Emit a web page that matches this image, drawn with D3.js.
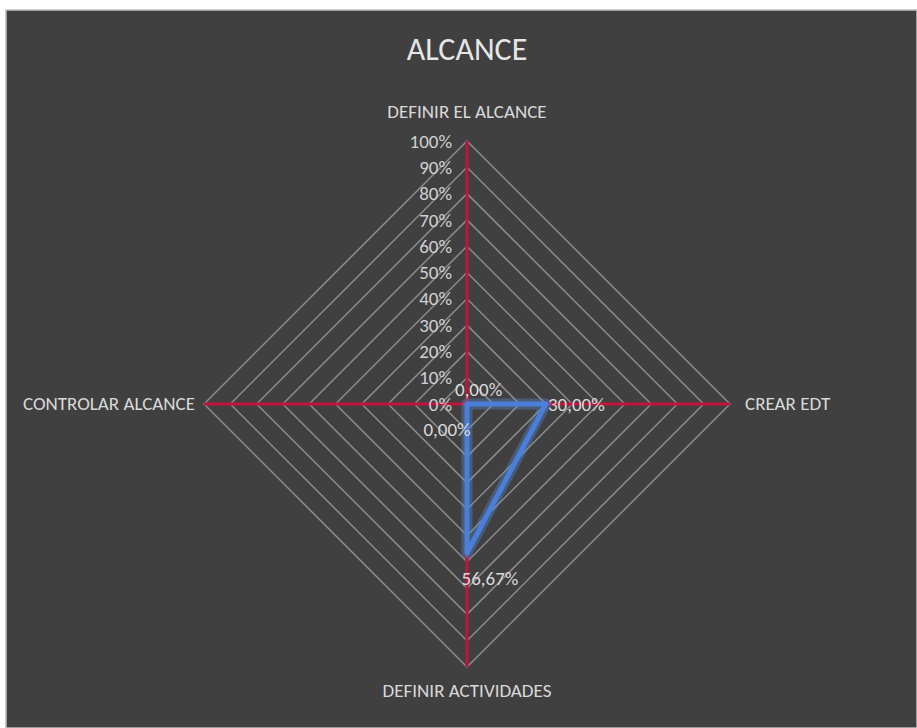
<!DOCTYPE html>
<html>
<head>
<meta charset="utf-8">
<script src="https://cdn.jsdelivr.net/npm/d3@7"></script>
<style>
  body { margin: 0; background: #fff; }
  svg { display: block; }
</style>
</head>
<body>
<div id="chart"></div>
<script>
// datos del radar
const categories = ["DEFINIR EL ALCANCE", "CREAR EDT", "DEFINIR ACTIVIDADES", "CONTROLAR ALCANCE"];
const values = [0, 0.30, 0.5667, 0];
const valueLabels = ["0,00%", "30,00%", "56,67%", "0,00%"];
const ticks = [0, 0.1, 0.2, 0.3, 0.4, 0.5, 0.6, 0.7, 0.8, 0.9, 1.0];
const tickLabels = ["0%", "10%", "20%", "30%", "40%", "50%", "60%", "70%", "80%", "90%", "100%"];

const W = 917, H = 728;
const cx = 467, cy = 404, R = 263;
const font = "Calibri, Carlito, 'Liberation Sans', 'Open Sans', sans-serif";

let svg = d3.select("#chart").append("svg")
    .attr("width", W)
    .attr("height", H);

// fondo del gráfico
svg.append("rect")
    .attr("x", 6).attr("y", 10)
    .attr("width", W - 6).attr("height", H - 10)
    .attr("fill", "#404040")
    .attr("stroke", "#bfbfbf")
    .attr("stroke-width", 1.5);

svg.append("text")
    .attr("x", cx)
    .attr("y", 60)
    .attr("text-anchor", "middle")
    .style("font-family", font)
    .style("font-size", "32px")
    .style("fill", "#e6e6e6")
    .text("ALCANCE");

let r = d3.scaleLinear().domain([0, 1]).range([0, R]);
let angle = d3.scalePoint().domain(categories).range([0, 2 * Math.PI * 3 / 4]);

function pt(cat, v) {
    let a = angle(cat);
    return [cx + r(v) * Math.sin(a), cy - r(v) * Math.cos(a)];
}

let g = svg.append("g");

// anillos (rombos)
g.selectAll(".grid")
    .data(ticks.filter(t => t > 0))
    .enter()
    .append("polygon")
    .attr("class", "grid")
    .attr("points", t => categories.map(c => pt(c, t).join(",")).join(" "))
    .attr("fill", "none")
    .attr("stroke", "#8c8c8c")
    .attr("stroke-width", 1.5);

// ejes
g.selectAll(".spoke")
    .data(categories)
    .enter()
    .append("line")
    .attr("class", "spoke")
    .attr("x1", cx).attr("y1", cy)
    .attr("x2", c => pt(c, 1)[0])
    .attr("y2", c => pt(c, 1)[1])
    .attr("stroke", "#c0143c")
    .attr("stroke-width", 3);

// etiquetas del eje
g.selectAll(".tick")
    .data(ticks)
    .enter()
    .append("text")
    .attr("class", "tick")
    .attr("x", cx - 15)
    .attr("y", t => cy - r(t))
    .attr("dy", "0.35em")
    .attr("text-anchor", "end")
    .style("font-family", font)
    .style("font-size", "19px")
    .style("fill", "#d0d0d0")
    .text((t, i) => tickLabels[i]);

// etiquetas de categorías
const catPos = [
    { dx: 0, dy: -23, anchor: "middle" },
    { dx: 15, dy: 6, anchor: "start" },
    { dx: 0, dy: 30, anchor: "middle" },
    { dx: -9, dy: 6, anchor: "end" }
];
g.selectAll(".cat")
    .data(categories)
    .enter()
    .append("text")
    .attr("class", "cat")
    .attr("x", (c, i) => pt(c, 1)[0] + catPos[i].dx)
    .attr("y", (c, i) => pt(c, 1)[1] + catPos[i].dy)
    .attr("text-anchor", (c, i) => catPos[i].anchor)
    .style("font-family", font)
    .style("font-size", "19px")
    .style("fill", "#d9d9d9")
    .text(c => c);

// serie
let pts = categories.map((c, i) => pt(c, values[i]));
let line = d3.line().curve(d3.curveLinearClosed);

g.append("path")
    .attr("d", line(pts))
    .attr("fill", "none")
    .attr("stroke", "#5b8fe0")
    .attr("stroke-opacity", 0.35)
    .attr("stroke-width", 11)
    .attr("stroke-linejoin", "round");

g.append("path")
    .attr("d", line(pts))
    .attr("fill", "none")
    .attr("stroke", "#4a7fdc")
    .attr("stroke-width", 5)
    .attr("stroke-linejoin", "round");

// etiquetas de datos
const lblPos = [
    { dx: -12, dy: -8, anchor: "start" },
    { dx: 2, dy: 7, anchor: "start" },
    { dx: 23, dy: 32, anchor: "middle" },
    { dx: -20, dy: 32, anchor: "middle" }
];
g.selectAll(".val")
    .data(categories)
    .enter()
    .append("text")
    .attr("class", "val")
    .attr("x", (c, i) => pts[i][0] + lblPos[i].dx)
    .attr("y", (c, i) => pts[i][1] + lblPos[i].dy)
    .attr("text-anchor", (c, i) => lblPos[i].anchor)
    .style("font-family", font)
    .style("font-size", "19px")
    .style("fill", "#d9d9d9")
    .text((c, i) => valueLabels[i]);
</script>
</body>
</html>
